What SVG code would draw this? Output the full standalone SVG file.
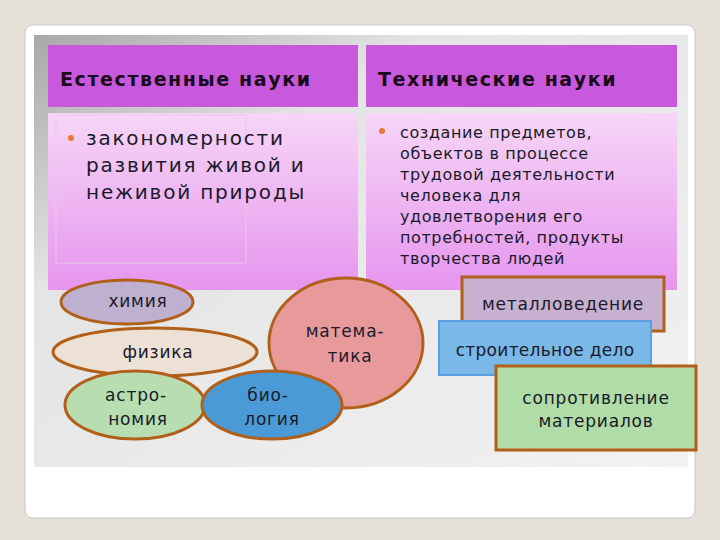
<svg xmlns="http://www.w3.org/2000/svg" width="720" height="540" viewBox="0 0 720 540">
<defs>
<linearGradient id="pk" x1="0" y1="0" x2="0" y2="1"><stop offset="0" stop-color="#f6d6f6"/><stop offset="1" stop-color="#e695ee"/></linearGradient>
<linearGradient id="gr" x1="0" y1="0" x2="1" y2="1"><stop offset="0" stop-color="#a8a8a8"/><stop offset="0.3" stop-color="#e4e4e4"/><stop offset="1" stop-color="#f2f2f2"/></linearGradient>
<style>
.t{font-family:"DejaVu Sans",sans-serif;fill:#1a1a2a;letter-spacing:0.8px;}
.h{font-family:"DejaVu Sans",sans-serif;font-weight:bold;font-size:19px;fill:#1a0a1a;letter-spacing:1.6px;}
.e{stroke:#b0601a;stroke-width:3;}
</style>
</defs>
<rect width="720" height="540" fill="#e6e1d8"/>
<rect x="25" y="25" width="670" height="493" rx="8" fill="#fff" stroke="#c8c8c8"/>
<rect x="34" y="35" width="654" height="432" fill="url(#gr)"/>
<g id="hdr-left"><rect x="48" y="45" width="310" height="62" fill="#c858dc"/><text class="h" x="60" y="86">Естественные науки</text></g>
<g id="hdr-right"><rect x="366" y="45" width="311" height="62" fill="#c858dc"/><text class="h" x="378" y="86">Технические науки</text></g>
<g id="body-left"><rect x="48" y="113" width="310" height="177" fill="url(#pk)"/><rect x="56" y="115" width="190" height="148" fill="none" stroke="#e8c8ec"/>
<circle cx="71" cy="138" r="3" fill="#e87838"/>
<text class="t" font-size="20" style="letter-spacing:1.8px"><tspan x="86" y="145">закономерности</tspan><tspan x="86" y="172">развития живой и</tspan><tspan x="86" y="199">неживой природы</tspan></text></g>
<g id="body-right"><rect x="366" y="113" width="311" height="177" fill="url(#pk)"/>
<circle cx="382" cy="131" r="3" fill="#e87838"/>
<text class="t" font-size="16" style="letter-spacing:0.6px"><tspan x="400" y="138">создание предметов,</tspan><tspan x="400" y="159">объектов в процессе</tspan><tspan x="400" y="180">трудовой деятельности</tspan><tspan x="400" y="201">человека для</tspan><tspan x="400" y="222">удовлетворения его</tspan><tspan x="400" y="243">потребностей, продукты</tspan><tspan x="400" y="264">творчества людей</tspan></text></g>
<g id="math"><ellipse cx="346" cy="343" rx="77" ry="65" fill="#e89a9a" class="e"/><text class="t" font-size="17" text-anchor="middle"><tspan x="345" y="337">матема-</tspan><tspan x="350" y="362">тика</tspan></text></g>
<g id="chem"><ellipse cx="127" cy="302" rx="66" ry="22" fill="#c0b0d0" class="e"/><text class="t" font-size="17" text-anchor="middle" x="138" y="307">химия</text></g>
<g id="phys"><ellipse cx="155" cy="352" rx="102" ry="24" fill="#ede0d4" class="e"/><text class="t" font-size="17" text-anchor="middle" x="158" y="358">физика</text></g>
<g id="astro"><ellipse cx="135" cy="405" rx="70" ry="34" fill="#b8ddb0" class="e"/><text class="t" font-size="17" text-anchor="middle"><tspan x="136" y="401">астро-</tspan><tspan x="138" y="425">номия</tspan></text></g>
<g id="bio"><ellipse cx="272" cy="405" rx="70" ry="34" fill="#4a9ad6" class="e"/><text class="t" font-size="17" text-anchor="middle"><tspan x="268" y="401">био-</tspan><tspan x="272" y="425">логия</tspan></text></g>
<g id="metal"><rect x="462" y="277" width="202" height="54" fill="#c8b0d0" class="e"/><text class="t" font-size="17" text-anchor="middle" x="563" y="310">металловедение</text></g>
<g id="build"><rect x="439" y="321" width="212" height="54" fill="#7ab8e8" stroke="#5aa0e0" stroke-width="2"/><text class="t" font-size="17" text-anchor="middle" x="545" y="356" style="letter-spacing:0.3px">строительное дело</text></g>
<g id="sopr"><rect x="496" y="366" width="200" height="84" fill="#b0dca8" class="e"/><text class="t" font-size="17" text-anchor="middle"><tspan x="596" y="404">сопротивление</tspan><tspan x="596" y="427">материалов</tspan></text></g>
<g id="connectors"/>
</svg>
